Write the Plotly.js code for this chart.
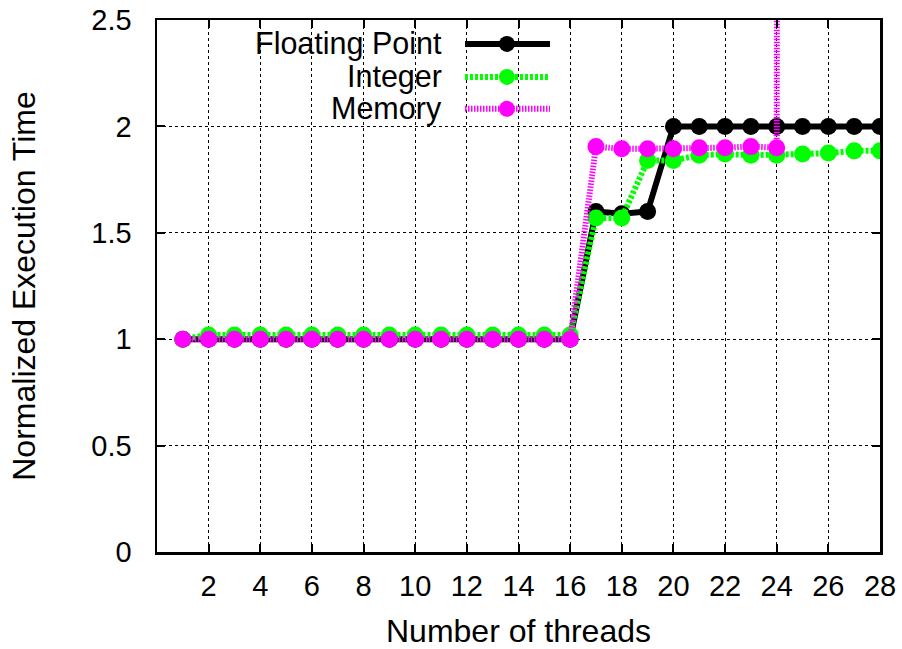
<!DOCTYPE html>
<html>
<head>
<meta charset="utf-8">
<script src="https://cdn.plot.ly/plotly-3.0.1.min.js"></script>
<style>html,body{margin:0;padding:0;background:#fff;}#chart{width:902px;height:649px;}</style>
</head>
<body>
<div id="chart"></div>
<script>
const threads = [1,2,3,4,5,6,7,8,9,10,11,12,13,14,15,16,17,18,19,20,21,22,23,24,25,26,27,28];
const floatingPoint = [1,1,1,1,1,1,1,1,1,1,1,1,1,1,1,1,1.6,1.59,1.6,2,2,2,2,2,2,2,2,2];
const integer = [1,1.02,1.02,1.02,1.02,1.02,1.02,1.02,1.02,1.02,1.02,1.02,1.02,1.02,1.02,1.02,1.57,1.57,1.84,1.84,1.865,1.87,1.865,1.865,1.87,1.875,1.885,1.885];
const memory = [1,1,1,1,1,1,1,1,1,1,1,1,1,1,1,1,1.905,1.895,1.895,1.895,1.9,1.9,1.905,1.9,100,100,100,100];
const seriesNames = ["Floating Point","Integer","Memory"];
const colors = ["#000000","#00ff00","#ff00ff"];
const dashes = ["solid","3px,2px","1.5px,1.5px"];
const xTicks = [2,4,6,8,10,12,14,16,18,20,22,24,26,28];

const series = [floatingPoint, integer, memory];
const traces = series.map((ys,i)=>({
  x: threads, y: ys, name: seriesNames[i], type:'scatter', mode:'lines+markers',
  line:{color:colors[i], width:6, dash:dashes[i]},
  marker:{color:colors[i], size:17, symbol:'circle'},
  showlegend:false, cliponaxis:true
}));

const font = "Liberation Sans, Arial, sans-serif";
const legendRowsY = [0.955, 0.893, 0.833];
const shapes = [];
const annotations = [];
seriesNames.forEach((n,i)=>{
  annotations.push({xref:'paper', yref:'paper', x:0.3956, y:legendRowsY[i], xanchor:'right', yanchor:'middle',
    text:n, showarrow:false, borderpad:0, font:{family:font, size:30.5, color:'#000'}});
  shapes.push({type:'line', xref:'paper', yref:'paper', x0:0.426, x1:0.5436, y0:legendRowsY[i], y1:legendRowsY[i],
    line:{color:colors[i], width:6, dash:dashes[i]}});
  shapes.push({type:'circle', xref:'paper', yref:'paper', xsizemode:'pixel', ysizemode:'pixel',
    xanchor:0.484, yanchor:legendRowsY[i], x0:-8, x1:8, y0:-8, y1:8,
    fillcolor:colors[i], line:{width:0}});
});

const axisCommon = {
  showline:true, linecolor:'#000', linewidth:2.5, mirror:'allticks',
  ticks:'inside', ticklen:8, tickwidth:2, tickcolor:'#000',
  showgrid:true, gridcolor:'#000', gridwidth:1, griddash:'dot',
  zeroline:false, tickfont:{family:font, size:29, color:'#000'}
};

const layout = {
  width:902, height:649,
  margin:{l:157, r:22, t:20, b:97},
  paper_bgcolor:'#fff', plot_bgcolor:'#fff',
  font:{family:font, color:'#000'},
  xaxis: Object.assign({}, axisCommon, {range:[0,28], tickvals:xTicks, ticktext:xTicks.map(String),
    ticklabelstandoff:7,
    title:{text:'Number of threads', font:{family:font, size:32}, standoff:20}}),
  yaxis: Object.assign({}, axisCommon, {range:[0,2.5], dtick:0.5, tick0:0,
    ticklabelstandoff:17,
    title:{text:'Normalized Execution Time', font:{family:font, size:32}, standoff:46}}),
  shapes: shapes, annotations: annotations, showlegend:false
};

Plotly.newPlot('chart', traces, layout, {staticPlot:true, displayModeBar:false});
</script>
</body>
</html>
